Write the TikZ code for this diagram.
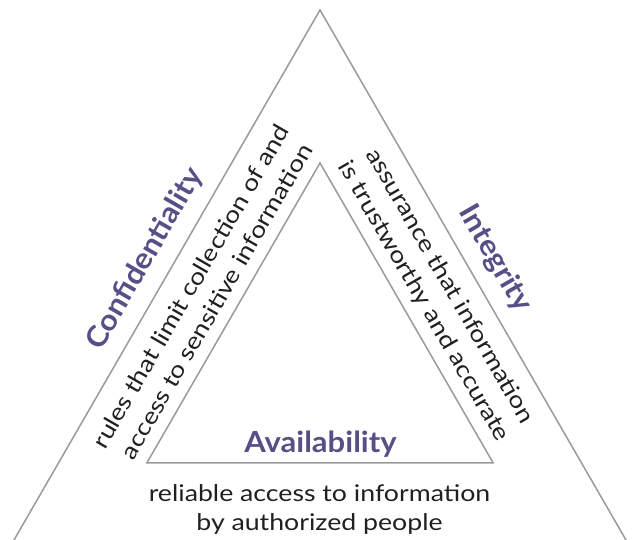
\documentclass[tikz,border=0pt]{standalone}
\usepackage{fontspec}
\setmainfont{Lato}[FakeStretch=1.16]
\newfontfamily\headfont{Lato}[FakeStretch=1.07]
\usetikzlibrary{calc}
\definecolor{edgegray}{HTML}{9A9A9A}
\definecolor{ciapurple}{HTML}{565086}
\definecolor{bodyink}{HTML}{231F20}
\tikzset{
  side/.style  = {draw=edgegray, line width=1.5pt, line join=miter},
  title/.style = {text=ciapurple, font=\headfont\fontsize{29}{32}\selectfont\bfseries,
                  inner sep=0pt},
  blurb/.style = {text=bodyink, font=\fontsize{23}{30}\selectfont,
                  align=center, inner sep=0pt},
}

\begin{document}
\begin{tikzpicture}[x=1pt,y=1pt]
    \useasboundingbox (0,0) rectangle (632,540);
    % corners
    \coordinate (oa)  at (320,530);
    \coordinate (obl) at (14,0);
    \coordinate (obr) at (626,0);
    \coordinate (ia)  at (320,377);
    \coordinate (ibl) at (146.8,77);
    \coordinate (ibr) at (493.2,77);
    % triangles
    \draw[side] (obl) -- (oa) -- (obr);
    \draw[side] (ibl) -- (ia) -- (ibr) -- cycle;
    % left side
    \node[title,rotate=60] (conf) at (145.1,281.1) {Confidentiality};
    \node[blurb,rotate=60] (confd) at (203.5,246.2)
      {rules that limit collection of and\\access to sensitive information};
    % right side
    \node[title,rotate=-60] (integ) at (494.9,281.1) {Integrity};
    \node[blurb,rotate=-60] (integd) at (436.5,246.2)
      {assurance that information\\is trustworthy and accurate};
    % base
    \node[title,anchor=base] (avail) at (320.5,87) {Availability};
    \node[blurb,font=\fontsize{23}{29.5}\selectfont] (availd) at (319.5,30.3)
      {reliable access to information\\by authorized people};
\end{tikzpicture}
\end{document}
